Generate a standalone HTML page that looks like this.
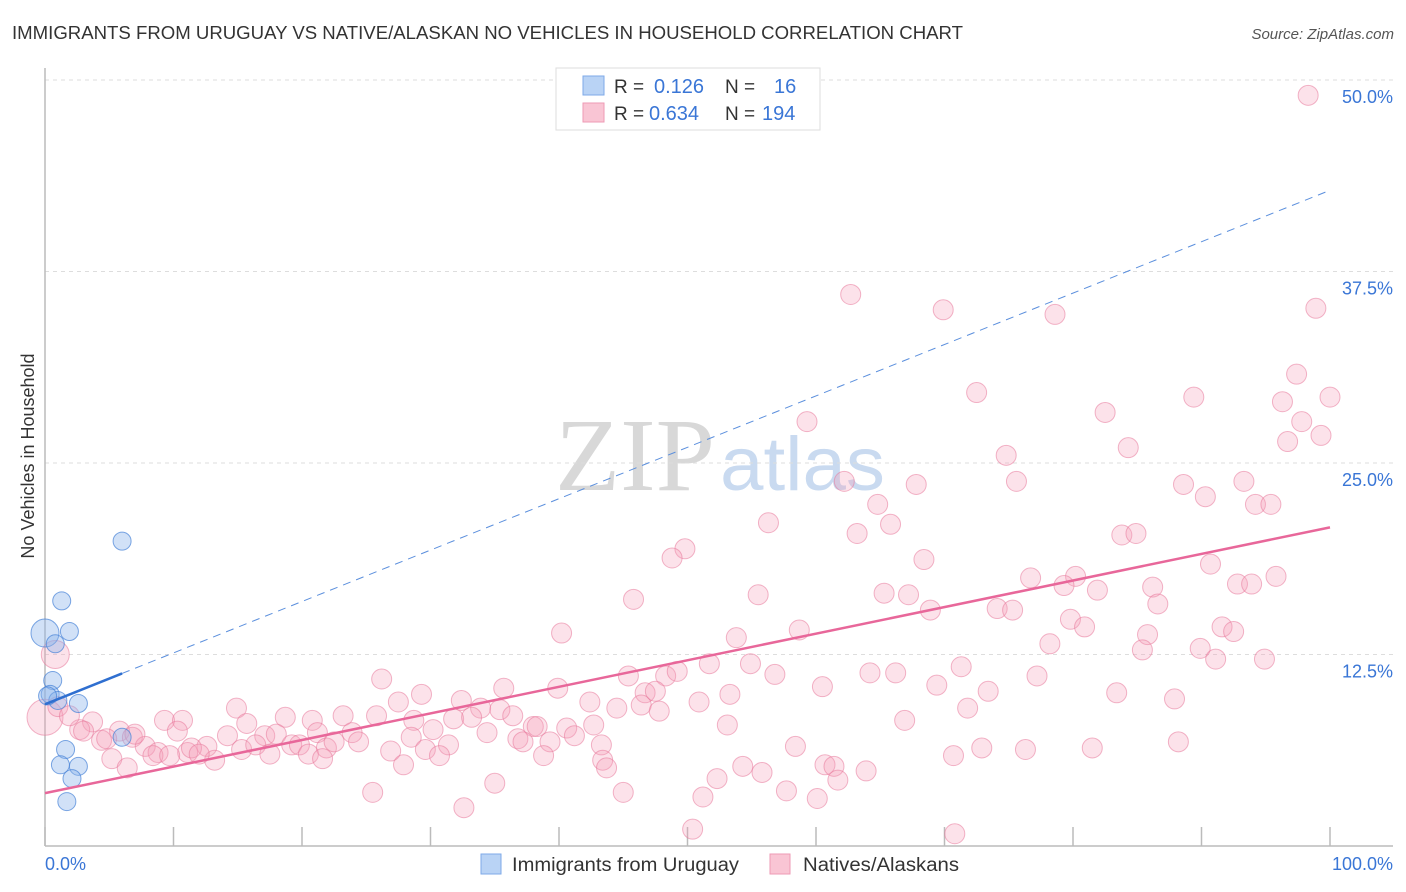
<!DOCTYPE html>
<html><head><meta charset="utf-8">
<style>
body{margin:0;background:#fff;font-family:"Liberation Sans",sans-serif;}
svg{display:block}
</style></head>
<body>
<svg id="chart" width="1406" height="892" xmlns="http://www.w3.org/2000/svg">
<text x="12" y="39" font-size="18" fill="#333" textLength="951" lengthAdjust="spacingAndGlyphs">IMMIGRANTS FROM URUGUAY VS NATIVE/ALASKAN NO VEHICLES IN HOUSEHOLD CORRELATION CHART</text>
<text x="1394" y="39" font-size="15" fill="#555" text-anchor="end" font-style="italic">Source: ZipAtlas.com</text>
<g>
<text x="555" y="490" font-size="104" fill="#d8d8d8" font-family="Liberation Serif,serif" textLength="160" lengthAdjust="spacingAndGlyphs">ZIP</text>
<text x="720" y="490" font-size="76" fill="#c9daf0" textLength="165" lengthAdjust="spacingAndGlyphs">atlas</text>
</g>
<text transform="translate(34,456) rotate(-90)" font-size="18" fill="#333" text-anchor="middle">No Vehicles in Household</text>
<g id="grid"></g>
<g id="axes"></g>
<g id="pink"></g>
<g id="blue"></g>
<g id="trends"></g>
<g>
<rect x="556" y="68" width="264" height="62" fill="#fff" stroke="#ddd"/>
<rect x="583" y="76" width="21" height="19" fill="#b9d3f5" stroke="#7ea9e8"/>
<rect x="583" y="103" width="21" height="19" fill="#f9c5d4" stroke="#ee9ab4"/>
<text x="614" y="93" font-size="19" fill="#333">R = </text><text x="654" y="93" font-size="20" fill="#3a76d6">0.126</text>
<text x="725" y="93" font-size="19" fill="#333">N = </text><text x="774" y="93" font-size="20" fill="#3a76d6">16</text>
<text x="614" y="120" font-size="19" fill="#333">R = </text><text x="649" y="120" font-size="20" fill="#3a76d6">0.634</text>
<text x="725" y="120" font-size="19" fill="#333">N = </text><text x="762" y="120" font-size="20" fill="#3a76d6">194</text>
</g>
<g>
<rect x="481" y="854" width="20" height="20" fill="#b9d3f5" stroke="#7ea9e8"/>
<text x="512" y="871" font-size="19" fill="#333" textLength="227" lengthAdjust="spacingAndGlyphs">Immigrants from Uruguay</text>
<rect x="770" y="854" width="20" height="20" fill="#f9c5d4" stroke="#ee9ab4"/>
<text x="803" y="871" font-size="19" fill="#333" textLength="156" lengthAdjust="spacingAndGlyphs">Natives/Alaskans</text>
</g>
<text x="45" y="870" font-size="18" fill="#3a76d6">0.0%</text>
<text x="1393" y="870" font-size="18" fill="#3a76d6" text-anchor="end">100.0%</text>
</svg>
<script>
const yTicks=[12.5,25,37.5,50];
const yTickLabels=["12.5%","25.0%","37.5%","50.0%"];
const xTicks=[0,10,20,30,40,50,60,70,80,90,100];
const blueX=[0,0.8,1.3,1.9,0.6,0.4,1.0,2.6,6.0,6.0,1.6,1.2,2.6,2.1,1.7,0.2];
const blueY=[13.9,13.2,16.0,14.0,10.8,9.9,9.5,9.3,19.9,7.1,6.3,5.3,5.2,4.4,2.9,9.8];
const pinkX=[98.3,62.7,69.9,78.6,98.9,72.5,59.3,82.5,89.4,97.4,96.3,100,97.8,96.7,99.3,84.3,74.8,62.2,67.8,75.6,88.6,93.3,90.3,64.8,94.2,95.4,56.3,65.8,63.2,83.8,84.9,49.8,48.8,68.4,90.7,76.7,80.2,79.3,95.8,86.2,92.8,93.9,45.8,55.5,65.3,67.2,81.9,86.6,68.9,74.1,75.3,79.8,80.9,91.6,92.5,40.2,58.7,53.8,85.8,78.2,85.4,89.9,51.7,54.9,71.3,91.1,94.9,45.4,48.3,49.2,56.8,64.2,66.2,77.2,26.2,35.7,39.9,46.7,47.5,60.5,69.4,73.4,83.4,87.9,29.3,27.5,32.4,42.4,44.5,46.4,50.9,53.3,71.8,14.9,33.9,35.4,47.8,18.7,23.2,25.8,28.7,31.8,33.2,36.4,9.3,10.7,15.7,20.8,3.7,38.0,38.3,53.1,66.9,2.7,5.8,10.3,14.2,17.1,18.0,21.2,23.9,30.2,34.4,40.6,42.7,41.2,36.8,6.8,4.4,7.8,8.8,11.1,12.6,11.4,15.3,16.4,19.2,19.8,21.9,24.4,28.5,31.4,37.2,39.3,43.3,29.6,26.9,20.5,21.6,30.7,38.8,8.4,9.7,13.2,5.2,58.4,70.7,72.9,76.3,81.5,88.2,43.4,43.7,6.4,27.9,54.3,55.8,60.7,61.4,63.9,61.7,52.3,35.0,25.5,45.0,57.7,51.2,60.1,32.6,50.4,70.8,0,0.8,1.0,1.9,3.0,4.8,7.0,12.0,17.5,22.5];
const pinkY=[49.0,36.0,35.0,34.7,35.1,29.6,27.7,28.3,29.3,30.8,29.0,29.3,27.7,26.4,26.8,26.0,25.5,23.8,23.6,23.8,23.6,23.8,22.8,22.3,22.3,22.3,21.1,21.0,20.4,20.3,20.4,19.4,18.8,18.7,18.4,17.5,17.6,17.0,17.6,16.9,17.1,17.1,16.1,16.4,16.5,16.4,16.7,15.8,15.4,15.5,15.4,14.8,14.3,14.3,14.0,13.9,14.1,13.6,13.8,13.2,12.8,12.9,11.9,11.9,11.7,12.2,12.2,11.1,11.1,11.4,11.2,11.3,11.3,11.1,10.9,10.3,10.3,10.0,10.1,10.4,10.5,10.1,10.0,9.6,9.9,9.4,9.5,9.4,9.0,9.2,9.4,9.9,9.0,9.0,9.0,8.9,8.8,8.4,8.5,8.5,8.2,8.3,8.4,8.5,8.2,8.2,8.0,8.2,8.1,7.8,7.8,7.9,8.2,7.6,7.5,7.5,7.2,7.2,7.3,7.4,7.4,7.6,7.4,7.7,7.9,7.2,7.0,7.1,6.9,6.5,6.1,6.1,6.5,6.4,6.3,6.6,6.6,6.6,6.4,6.8,7.1,6.6,6.8,6.8,6.6,6.3,6.2,6.0,5.7,5.9,5.9,5.9,5.9,5.6,5.7,6.5,5.9,6.4,6.3,6.4,6.8,5.6,5.1,5.1,5.3,5.2,4.8,5.3,5.2,4.9,4.3,4.4,4.1,3.5,3.5,3.6,3.2,3.1,2.5,1.1,0.8,8.4,12.5,9.1,8.5,7.5,7.0,7.3,6.0,6.0,6.8];
const pinkR=[];pinkX.forEach((v,i)=>pinkR.push(i===pinkX.length-10?18:(i===pinkX.length-9?14:10)));
const blueTrend=[9.25,42.8];
const pinkTrend=[3.45,20.8];
const X0=45,X1=1330,Y0=846,Y50=80;
const sx=v=>X0+(X1-X0)*v/100;
const sy=v=>Y0-(Y0-Y50)*v/50;
const NS="http://www.w3.org/2000/svg";
function mk(tag,attrs,parent){const e=document.createElementNS(NS,tag);for(const k in attrs)e.setAttribute(k,attrs[k]);document.getElementById(parent).appendChild(e);return e;}
yTicks.forEach((t,i)=>{
 const l=mk('line',{x1:X0,x2:1393,y1:sy(t),y2:sy(t),stroke:'#ddd','stroke-dasharray':'4,4'},'grid');
 
 
 const tx=mk('text',{x:1393,y:sy(t)+23,'font-size':18,fill:'#3a76d6','text-anchor':'end'},'grid');
 tx.textContent=yTickLabels[i];
 
 
});
const ay=mk('line',{x1:X0,x2:X0,y1:68,y2:Y0,stroke:'#bbb','stroke-width':1.5},'axes');


const ax=mk('line',{x1:X0,x2:1393,y1:Y0,y2:Y0,stroke:'#bbb','stroke-width':1.5},'axes');


xTicks.forEach(t=>{
 const l=mk('line',{x1:sx(t),x2:sx(t),y1:Y0-19,y2:Y0,stroke:'#bbb','stroke-width':1.5},'axes');
 
 
});
pinkX.forEach((x,i)=>{
 const c=mk('circle',{cx:sx(x),cy:sy(pinkY[i]),r:pinkR[i],fill:'rgba(245,160,185,0.3)',stroke:'rgba(232,120,155,0.55)','stroke-width':1},'pink');
 
 
});
blueX.forEach((x,i)=>{
 const c=mk('circle',{cx:sx(x),cy:sy(blueY[i]),r:i===0?14:9,fill:'rgba(140,180,235,0.4)',stroke:'rgba(70,130,215,0.7)','stroke-width':1},'blue');
 
 
});
const bAt=x=>blueTrend[0]+(blueTrend[1]-blueTrend[0])*x/100;
const bd=mk('line',{x1:sx(6),y1:sy(bAt(6)),x2:sx(100),y2:sy(bAt(100)),stroke:'#5b8fdd','stroke-width':1,'stroke-dasharray':'8,6'},'trends');


const bs=mk('line',{x1:sx(0),y1:sy(bAt(0)),x2:sx(6),y2:sy(bAt(6)),stroke:'#2f6fd0','stroke-width':2.5},'trends');


const pt=mk('line',{x1:sx(0),y1:sy(pinkTrend[0]),x2:sx(100),y2:sy(pinkTrend[1]),stroke:'#e8679a','stroke-width':2.5},'trends');


</script>
</body></html>
